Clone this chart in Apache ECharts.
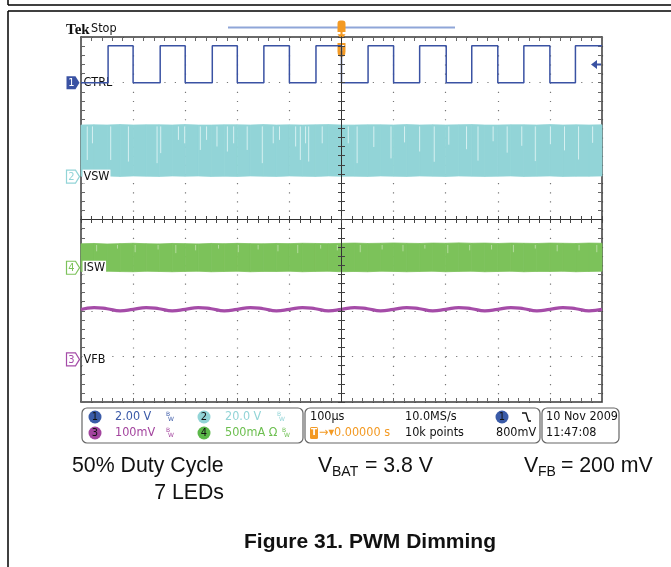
<!DOCTYPE html>
<html><head><meta charset="utf-8">
<script src="https://cdn.jsdelivr.net/npm/echarts@6/dist/echarts.min.js"></script>
<style>html,body{margin:0;padding:0;background:#fff}#c{width:671px;height:567px}</style>
</head><body><div id="c"></div>
<script>
// ---- data (time in µs, values in channel units) ----
const ctrlTime  = [-500, -448, -400, -348, -300, -248, -200, -149, -100, -49, 0, 51, 100, 150, 201, 250, 300, 350, 400, 449, 500];
const ctrlLevel = [0, 1.62, 0, 1.62, 0, 1.62, 0, 1.62, 0, 1.62, 0, 1.62, 0, 1.62, 0, 1.62, 0, 1.62, 0, 1.62, 1.62];

const bandTime = [-500,-475,-450,-425,-400,-375,-350,-325,-300,-275,-250,-225,-200,-175,-150,-125,-100,-75,-50,-25,0,25,50,75,100,125,150,175,200,225,250,275,300,325,350,375,400,425,450,475,500];
const vswHigh = [22.6,22.7,22.6,22.8,22.6,22.7,22.7,22.6,22.8,22.6,22.6,22.7,22.7,22.6,22.8,22.6,22.7,22.6,22.7,22.8,22.6,22.6,22.7,22.7,22.6,22.8,22.6,22.7,22.6,22.7,22.8,22.6,22.6,22.7,22.7,22.6,22.8,22.6,22.7,22.6,22.7];
const vswLow  = [0.2,0.1,0.3,0.1,0.3,0.2,0.1,0.3,0.2,0.3,0.1,0.2,0.1,0.3,0.2,0.1,0.3,0.2,0.1,0.3,0.2,0.2,0.1,0.3,0.2,0.1,0.3,0.2,0.1,0.3,0.2,0.1,0.2,0.3,0.1,0.2,0.3,0.1,0.2,0.2,0.3];
const vswGapTime  = [-488,-478,-443,-409,-354,-347,-313,-301,-271,-259,-239,-219,-207,-181,-152,-131,-119,-88,-79,-69,-63,-37,13,30,62,95,121,150,178,206,240,262,291,318,346,372,401,428,455,482];
const vswGapDepth = [7.3,14.6,7.3,6.6,5.9,10.3,16.1,14.6,11.7,16.1,13.2,11.0,14.6,11.7,5.9,14.6,16.1,13.2,7.3,14.6,6.6,14.6,14.6,5.9,13.0,8.0,15.0,11.0,6.5,14.0,12.0,7.0,15.5,10.5,13.5,6.8,14.2,11.5,7.5,14.8];

const iswHigh = [0.262,0.266,0.260,0.264,0.268,0.263,0.261,0.266,0.264,0.261,0.266,0.263,0.267,0.264,0.262,0.266,0.264,0.268,0.266,0.264,0.267,0.270,0.266,0.268,0.271,0.268,0.266,0.270,0.268,0.272,0.268,0.270,0.266,0.270,0.268,0.266,0.270,0.268,0.266,0.270,0.268];
const iswLow  = [-0.040,-0.044,-0.038,-0.042,-0.044,-0.038,-0.041,-0.044,-0.040,-0.038,-0.044,-0.041,-0.038,-0.044,-0.040,-0.041,-0.038,-0.044,-0.040,-0.038,-0.044,-0.041,-0.044,-0.038,-0.040,-0.044,-0.041,-0.038,-0.044,-0.040,-0.038,-0.044,-0.041,-0.038,-0.044,-0.040,-0.041,-0.038,-0.044,-0.040,-0.038];
const iswGapTime  = [-470,-430,-396,-352,-318,-280,-236,-198,-160,-122,-84,-40,-8,36,78,118,160,204,246,288,330,372,414,456,490];
const iswGapDepth = [0.18,0.21,0.17,0.2,0.16,0.19,0.21,0.17,0.2,0.18,0.16,0.21,0.19,0.17,0.2,0.18,0.21,0.16,0.19,0.2,0.17,0.21,0.18,0.19,0.17];

const vfbTime = bandTime;
const vfbLevel = [0.1095,0.1135,0.111,0.1065,0.1095,0.1135,0.111,0.1065,0.1095,0.1135,0.111,0.1065,0.1095,0.1135,0.111,0.1065,0.1095,0.1135,0.111,0.1065,0.1095,0.1135,0.111,0.1065,0.1095,0.1135,0.111,0.1065,0.1095,0.1135,0.111,0.1065,0.1095,0.1135,0.111,0.1065,0.1095,0.1135,0.111,0.1065,0.1095];

const trigLevel = 0.8; // V on CTRL

// channel settings: ground position (divisions from centre) and units/div
const CH = {
  ctrl: {off: 3.0, per: 2},
  vsw:  {off: 0.94, per: 20},
  isw:  {off: -1.057, per: 0.5},
  vfb:  {off: -3.066, per: 0.1}
};
const dv = (v, ch) => CH[ch].off + v / CH[ch].per;

const C = {ctrl:'#3a52a3', vsw:'#92d4d7', isw:'#7cc25a', vfb:'#a54ca8', org:'#f39a24'};
const LBL_FONT = '"DejaVu Sans Condensed","Liberation Sans Narrow","DejaVu Sans",sans-serif';
const CAP_FONT = '"Liberation Sans",Arial,sans-serif';

function flag(ch, num, name, filled){
  return [
    {coord:[-500, CH[ch].off], symbol:'path://M0,0L9,0L13,6L9,12L0,12Z', symbolSize:[13,13], symbolOffset:[-8,0],
     itemStyle:{color: filled ? C[ch] : '#fff', borderColor: C[ch], borderWidth: filled?0:1.2},
     label:{show:true, position:'inside', formatter:num, color: filled ? '#fff' : C[ch], fontSize:11, fontFamily:LBL_FONT, offset:[-1.5,0.5]}},
    {coord:[-500, CH[ch].off], symbol:'rect', symbolSize:[1,1], itemStyle:{color:'rgba(0,0,0,0)'},
     label:{show:true, position:'right', distance:1, formatter:name, color:'#111', fontSize:12.5, fontFamily:LBL_FONT, backgroundColor:'#fff', padding:[1,1,0,1]}}
  ];
}

function edgeAxis(pos, grid, isX, split, z){
  return {
    gridIndex: grid, type:'value', position: pos,
    min: isX ? -500 : -4, max: isX ? 500 : 4, interval: isX ? 100 : 1,
    axisLine:{show:true, onZero:false, lineStyle:{color:'#3a3a3a', width:1.5}},
    axisTick:{show:true, inside:true, length:4, lineStyle:{color:'#666', width:1}},
    minorTick:{show:true, splitNumber:5, length:4, lineStyle:{color:'#666', width:1}},
    axisLabel:{show:false},
    splitLine:{show: split, lineStyle:{color:'#777', width:1.2, type: isX ? [1.2, 7.93] : [1.2, 9.22]}},
    z: z
  };
}
function centreAxis(grid, isX, inside){
  return {
    gridIndex: grid, type:'value', position: isX ? 'bottom' : 'left',
    min: isX ? -500 : -4, max: isX ? 500 : 4, interval: isX ? 100 : 1,
    axisLine:{show:true, onZero:true, lineStyle:{color:'#333', width:1}},
    axisTick:{show:true, inside: inside, length:3.5, lineStyle:{color:'#444', width:1}},
    minorTick:{show:true, splitNumber:5, length:3.5, lineStyle:{color:'#444', width:1}},
    axisLabel:{show:false}, splitLine:{show:false}, z: 10
  };
}

const gridBox = {left:81, top:37, width:521, height:365};

// envelope band: each data item is one segment between consecutive samples
function band(ch, hi, lo, color){
  const data = [];
  for (let i = 0; i < bandTime.length - 1; i++) {
    data.push([bandTime[i], dv(lo[i], ch), dv(hi[i], ch), bandTime[i+1], dv(lo[i+1], ch), dv(hi[i+1], ch)]);
  }
  return {
    type:'custom', xAxisIndex:0, yAxisIndex:0, z:3, silent:true,
    encode:{x:[0,3], y:[1,2,4,5]},
    data: data,
    renderItem: (params, api) => {
      const a = api.coord([api.value(0), api.value(1)]);
      const b = api.coord([api.value(0), api.value(2)]);
      const c = api.coord([api.value(3), api.value(5)]);
      const d = api.coord([api.value(3), api.value(4)]);
      return {type:'polygon', shape:{points:[a,b,c,d]}, style:{fill:color, stroke:color, lineWidth:0.8}};
    }
  };
}
function gaps(ch, times, depths, topVal, color){
  return {
    type:'custom', xAxisIndex:0, yAxisIndex:0, z:4, silent:true,
    data: times.map((t,i)=>[t, dv(depths[i], ch)]),
    renderItem: (params, api) => {
      const t = api.value(0);
      const p1 = api.coord([t, dv(topVal, ch)]);
      const p2 = api.coord([t, api.value(1)]);
      return {type:'line', shape:{x1:p1[0], y1:p1[1], x2:p2[0], y2:p2[1]}, style:{stroke:color, lineWidth:1}};
    }
  };
}

const chart = echarts.init(document.getElementById('c'), null, {renderer:'canvas'});

const series = [];
series.push(band('vsw', vswHigh, vswLow, C.vsw));
series.push(gaps('vsw', vswGapTime, vswGapDepth, 22.0, '#d6f0f1'));
series.push(band('isw', iswHigh, iswLow, C.isw));
series.push(gaps('isw', iswGapTime, iswGapDepth, 0.25, '#b4dc9e'));
series.push({
  type:'line', name:'VFB', xAxisIndex:0, yAxisIndex:0, symbol:'none', smooth:0.5,
  lineStyle:{color:C.vfb, width:3.2}, data: vfbTime.map((t,i)=>[t, dv(vfbLevel[i], 'vfb')]), z:5,
  markPoint:{animation:false, data: flag('vfb','3','VFB',false)}
});
series.push({
  type:'line', name:'CTRL', xAxisIndex:0, yAxisIndex:0, symbol:'none', step:'end',
  lineStyle:{color:C.ctrl, width:1.5}, data: ctrlTime.map((t,i)=>[t, dv(ctrlLevel[i], 'ctrl')]), z:6,
  markPoint:{animation:false, data: [
    ...flag('ctrl','1','CTRL',true),
    ...flag('vsw','2','VSW',false),
    ...flag('isw','4','ISW',false),
    {coord:[500, dv(trigLevel,'ctrl')], symbol:'path://M0,4.5L6,0L6,3.5L10,3.5L10,5.5L6,5.5L6,9Z', symbolSize:[10,9], symbolOffset:[-6,0], itemStyle:{color:C.ctrl}, label:{show:false}},
    {coord:[0, 4], symbol:'path://M0,0L8,0L8,8Q8,13 4,13Q0,13 0,8Z', symbolSize:[8,14], symbolOffset:[0,13], itemStyle:{color:C.org},
     label:{show:true, position:'inside', formatter:'T', color:'#fff', fontSize:9, fontWeight:'bold', offset:[0,-1]}},
    {coord:[0, 4], symbol:'path://M0,3Q0,0 3,0L5,0Q8,0 8,3L8,11L5,11L5,13L8,13L4,18L0,13L3,13L3,11L0,11Z', symbolSize:[8,19], symbolOffset:[0,-7], itemStyle:{color:C.org}, label:{show:false}}
  ]}
});

function bw(x, y, color){
  return [
    {type:'text', x:x, y:y-3, style:{text:'B', font:'6px "DejaVu Sans"', fill:color, verticalAlign:'middle'}},
    {type:'text', x:x+2, y:y+2, style:{text:'W', font:'6px "DejaVu Sans"', fill:color, verticalAlign:'middle'}}
  ];
}
function txt(x, y, s, color, size, align){
  return {type:'text', x:x, y:y, style:{text:s, font:(size||12.5)+'px '+LBL_FONT, fill:color||'#111', verticalAlign:'middle', align:align||'left'}};
}
function badge(x, y, num, color){
  return [
    {type:'circle', shape:{cx:x, cy:y, r:6.5}, style:{fill:color}},
    {type:'text', x:x, y:y+0.5, style:{text:num, font:'11px '+LBL_FONT, fill:'#111', align:'center', verticalAlign:'middle'}}
  ];
}
function cap(x, y, s, size, align, weight){
  return {type:'text', x:x, y:y, style:{text:s, font:(weight||'')+' '+size+'px '+CAP_FONT, fill:'#111', align:align||'left', verticalAlign:'middle'}};
}
const r1 = 417, r2 = 433;
const graphic = [
  {type:'line', shape:{x1:8,y1:0,x2:8,y2:5}, style:{stroke:'#000', lineWidth:1.5}},
  {type:'line', shape:{x1:8,y1:5,x2:671,y2:5}, style:{stroke:'#000', lineWidth:1.5}},
  {type:'line', shape:{x1:8,y1:11,x2:671,y2:11}, style:{stroke:'#000', lineWidth:1.5}},
  {type:'line', shape:{x1:8,y1:11,x2:8,y2:567}, style:{stroke:'#000', lineWidth:1.5}},
  {type:'text', x:66, y:30, style:{text:'Tek', font:'bold 15px "Liberation Serif","DejaVu Serif",serif', fill:'#111', verticalAlign:'middle'}},
  txt(91, 29, 'Stop', '#111', 12.5),
  {type:'line', shape:{x1:228,y1:27.5,x2:455,y2:27.5}, style:{stroke:'#8fa6d8', lineWidth:2}},
  // info box 1
  {type:'rect', shape:{x:82, y:408, width:221, height:35, r:5}, style:{fill:'#fff', stroke:'#666', lineWidth:1.2}},
  ...badge(95, r1, '1', '#3a5ba8'),
  txt(115, r1, '2.00 V', '#3b5aa8'),
  ...bw(166, r1, '#3b5aa8'),
  ...badge(204, r1, '2', C.vsw),
  txt(225, r1, '20.0 V', C.vsw),
  ...bw(277, r1, C.vsw),
  ...badge(95, r2, '3', '#a3449e'),
  txt(115, r2, '100mV', '#a3449e'),
  ...bw(166, r2, '#a3449e'),
  ...badge(204, r2, '4', '#5cb84a'),
  txt(225, r2, '500mA Ω', '#6cbf4f'),
  ...bw(282, r2, '#6cbf4f'),
  // info box 2
  {type:'rect', shape:{x:305, y:408, width:235, height:35, r:5}, style:{fill:'#fff', stroke:'#666', lineWidth:1.2}},
  txt(310, r1, '100µs', '#111'),
  {type:'rect', shape:{x:310, y:r2-6, width:8, height:12, r:1.5}, style:{fill:C.org}},
  {type:'text', x:314, y:r2, style:{text:'T', font:'bold 9px "DejaVu Sans"', fill:'#fff', align:'center', verticalAlign:'middle'}},
  txt(319, r2, '→▾0.00000 s', C.org),
  txt(405, r1, '10.0MS/s', '#111'),
  txt(405, r2, '10k points', '#111'),
  ...badge(502, r1, '1', '#3a5ba8'),
  {type:'polyline', shape:{points:[[522,413],[526,413],[528.5,421],[531,421]]}, style:{stroke:'#111', lineWidth:1.3, fill:null}},
  txt(496, r2, '800mV', '#111'),
  // info box 3
  {type:'rect', shape:{x:542, y:408, width:77, height:35, r:5}, style:{fill:'#fff', stroke:'#666', lineWidth:1.2}},
  txt(546, r1, '10 Nov 2009', '#111'),
  txt(546, r2, '11:47:08', '#111'),
  // captions
  cap(72, 466, '50% Duty Cycle', 21.3),
  cap(224, 493, '7 LEDs', 21.3, 'right'),
  cap(318, 466, 'V', 21.3),
  cap(332, 472, 'BAT', 14),
  cap(359, 466, ' = 3.8 V', 21.3),
  cap(524, 466, 'V', 21.3),
  cap(538, 472, 'FB', 14),
  cap(555, 466, ' = 200 mV', 21.3),
  cap(370, 542, 'Figure 31. PWM Dimming', 21, 'center', 'bold')
];

chart.setOption({
  animation:false,
  backgroundColor:'#fff',
  grid:[Object.assign({}, gridBox), Object.assign({}, gridBox), Object.assign({}, gridBox)],
  xAxis:[edgeAxis('bottom',0,true,true,0), edgeAxis('top',0,true,false,0), centreAxis(1,true,true), centreAxis(2,true,false)],
  yAxis:[edgeAxis('left',0,false,true,0), edgeAxis('right',0,false,false,0), centreAxis(1,false,true), centreAxis(2,false,false)],
  series: series,
  graphic: graphic
});
</script>
</body></html>
